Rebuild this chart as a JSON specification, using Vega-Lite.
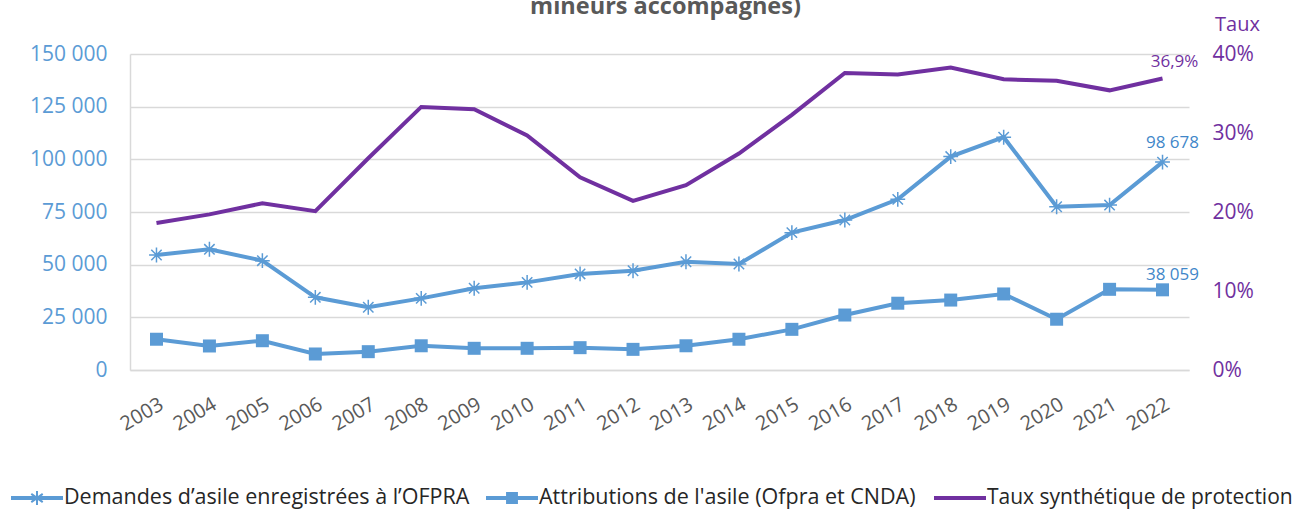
{
  "$schema": "https://vega.github.io/schema/vega-lite/v6.json",
  "width": 1059,
  "height": 316,
  "autosize": {"type": "none"},
  "padding": {"left": 130, "top": 54, "right": 109, "bottom": 141},
  "background": "white",
  "config": {
    "view": {"stroke": null},
    "font": "Open Sans",
    "locale": {"number": {"decimal": ",", "thousands": " ", "grouping": [3], "currency": ["", " €"]}},
    "axisLeft": {"labelColor": "#5B9BD5", "labelFontSize": 21, "ticks": false, "domainColor": "#d9d9d9", "domainWidth": 1.5, "gridColor": "#d9d9d9", "gridWidth": 1.5, "labelPadding": 23, "labelOverlap": false},
    "axisRight": {"labelColor": "#7030A0", "labelFontSize": 21, "ticks": false, "domain": false, "grid": false, "labelPadding": 23, "labelOverlap": false},
    "axisBottom": {"labelColor": "#595959", "labelFontSize": 20, "ticks": false, "domainColor": "#d9d9d9", "domainWidth": 1.5, "grid": false, "labelAngle": -30, "labelPadding": 24, "labelOverlap": false},
    "legend": {"orient": "none", "title": null, "symbolSize": 2704, "symbolStrokeWidth": 2, "symbolOpacity": 1, "labelFontSize": 21.5, "labelColor": "#262626", "labelOffset": 0, "labelLimit": 600, "padding": 0, "legendY": 417}
  },
  "title": {"text": "mineurs accompagnés)", "fontSize": 23.5, "fontWeight": "bold", "color": "#595959", "anchor": "middle", "frame": "group", "dx": 6, "dy": 8},
  "data": {
    "values": [
      {"year": "2003", "demandes": 54600, "attributions": 14600, "taux": 0.186},
      {"year": "2004", "demandes": 57300, "attributions": 11400, "taux": 0.197},
      {"year": "2005", "demandes": 51900, "attributions": 13900, "taux": 0.211},
      {"year": "2006", "demandes": 34500, "attributions": 7600, "taux": 0.201},
      {"year": "2007", "demandes": 29800, "attributions": 8700, "taux": 0.268},
      {"year": "2008", "demandes": 34000, "attributions": 11500, "taux": 0.333},
      {"year": "2009", "demandes": 38800, "attributions": 10300, "taux": 0.330},
      {"year": "2010", "demandes": 41600, "attributions": 10300, "taux": 0.297},
      {"year": "2011", "demandes": 45600, "attributions": 10600, "taux": 0.244},
      {"year": "2012", "demandes": 47100, "attributions": 9800, "taux": 0.214},
      {"year": "2013", "demandes": 51400, "attributions": 11500, "taux": 0.234},
      {"year": "2014", "demandes": 50300, "attributions": 14600, "taux": 0.274},
      {"year": "2015", "demandes": 65200, "attributions": 19300, "taux": 0.323},
      {"year": "2016", "demandes": 71200, "attributions": 26100, "taux": 0.376},
      {"year": "2017", "demandes": 81000, "attributions": 31700, "taux": 0.374},
      {"year": "2018", "demandes": 101300, "attributions": 33200, "taux": 0.383},
      {"year": "2019", "demandes": 110500, "attributions": 36100, "taux": 0.368},
      {"year": "2020", "demandes": 77500, "attributions": 24100, "taux": 0.366},
      {"year": "2021", "demandes": 78300, "attributions": 38300, "taux": 0.354},
      {"year": "2022", "demandes": 98678, "attributions": 38059, "taux": 0.369}
    ]
  },
  "encoding": {
    "x": {"field": "year", "type": "ordinal", "scale": {"type": "point", "padding": 0.5}, "axis": {"title": null}}
  },
  "layer": [
    {
      "layer": [
        {
          "mark": {"type": "line", "strokeWidth": 4},
          "encoding": {
            "y": {"field": "demandes", "type": "quantitative", "scale": {"domain": [0, 150000], "nice": false}, "axis": {"title": null, "values": [0, 25000, 50000, 75000, 100000, 125000, 150000], "format": ",d"}},
            "color": {
              "datum": "Demandes d’asile enregistrées à l’OFPRA",
              "type": "nominal",
              "scale": {"range": ["#5B9BD5"]},
              "legend": {"legendX": -120, "symbolType": "M-1,-0.04H1M-1,0.04H1M0,-0.27V0.27M-0.22,-0.16L0.22,0.16M-0.22,0.16L0.22,-0.16", "symbolStrokeColor": "#5B9BD5", "symbolFillColor": "#5B9BD5"}
            }
          }
        },
        {
          "mark": {"type": "point", "shape": "M-1,0H1M0,-1V1M-0.7,-0.7L0.7,0.7M-0.7,0.7L0.7,-0.7", "filled": false, "color": "#5B9BD5", "strokeWidth": 1.5, "size": 220, "opacity": 1},
          "encoding": {"y": {"field": "demandes", "type": "quantitative", "scale": {"domain": [0, 150000], "nice": false}, "axis": {"title": null}}}
        },
        {
          "mark": {"type": "line", "strokeWidth": 4},
          "encoding": {
            "y": {"field": "attributions", "type": "quantitative", "scale": {"domain": [0, 150000], "nice": false}, "axis": {"title": null}},
            "color": {
              "datum": "Attributions de l'asile (Ofpra et CNDA)",
              "type": "nominal",
              "scale": {"range": ["#5B9BD5"]},
              "legend": {"legendX": 355, "symbolType": "M-1,-0.04H1M-1,0.04H1M-0.04,-0.04H0.04V0.04H-0.04ZM-0.115,-0.115H0.115V0.115H-0.115ZM-0.19,-0.19H0.19V0.19H-0.19Z", "symbolStrokeColor": "#5B9BD5", "symbolFillColor": "#5B9BD5"}
            }
          }
        },
        {
          "mark": {"type": "point", "shape": "square", "filled": true, "color": "#5B9BD5", "size": 169, "opacity": 1},
          "encoding": {"y": {"field": "attributions", "type": "quantitative", "scale": {"domain": [0, 150000], "nice": false}, "axis": {"title": null}}}
        },
        {
          "transform": [{"filter": "datum.year === '2022'"}],
          "mark": {"type": "text", "dx": 10, "dy": -19, "fontSize": 17, "color": "#3F87C9"},
          "encoding": {
            "y": {"field": "demandes", "type": "quantitative", "scale": {"domain": [0, 150000], "nice": false}, "axis": {"title": null}},
            "text": {"field": "demandes", "type": "quantitative", "format": ",d"}
          }
        },
        {
          "transform": [{"filter": "datum.year === '2022'"}],
          "mark": {"type": "text", "dx": 10, "dy": -15, "fontSize": 17, "color": "#3F87C9"},
          "encoding": {
            "y": {"field": "attributions", "type": "quantitative", "scale": {"domain": [0, 150000], "nice": false}, "axis": {"title": null}},
            "text": {"field": "attributions", "type": "quantitative", "format": ",d"}
          }
        }
      ],
      "resolve": {"scale": {"color": "independent"}, "legend": {"color": "independent"}}
    },
    {
      "layer": [
        {
          "mark": {"type": "line", "strokeWidth": 4},
          "encoding": {
            "y": {
              "field": "taux", "type": "quantitative", "scale": {"domain": [0, 0.4], "nice": false},
              "axis": {"orient": "right", "title": "Taux", "values": [0, 0.05, 0.1, 0.15, 0.2, 0.25, 0.3, 0.35, 0.4], "format": ".0%", "grid": false, "domain": false, "ticks": false, "titleAngle": 0, "titleX": 48, "titleY": -30, "titleColor": "#7030A0", "titleFontSize": 20, "titleFontWeight": "normal", "titleAlign": "center", "titleBaseline": "middle"}
            },
            "color": {
              "datum": "Taux synthétique de protection",
              "type": "nominal",
              "scale": {"range": ["#7030A0"]},
              "legend": {"legendX": 803, "labelFontSize": 21, "symbolType": "M-1,-0.04H1M-1,0.04H1", "symbolStrokeColor": "#7030A0", "symbolFillColor": "#7030A0"}
            }
          }
        },
        {
          "transform": [{"filter": "datum.year === '2022'"}],
          "mark": {"type": "text", "dx": 12, "dy": -16, "fontSize": 17, "color": "#7030A0"},
          "encoding": {
            "y": {"field": "taux", "type": "quantitative", "scale": {"domain": [0, 0.4], "nice": false}, "axis": {"title": "Taux"}},
            "text": {"field": "taux", "type": "quantitative", "format": ".1%"}
          }
        }
      ]
    }
  ],
  "resolve": {"scale": {"y": "independent", "color": "independent"}, "legend": {"color": "independent"}}
}
